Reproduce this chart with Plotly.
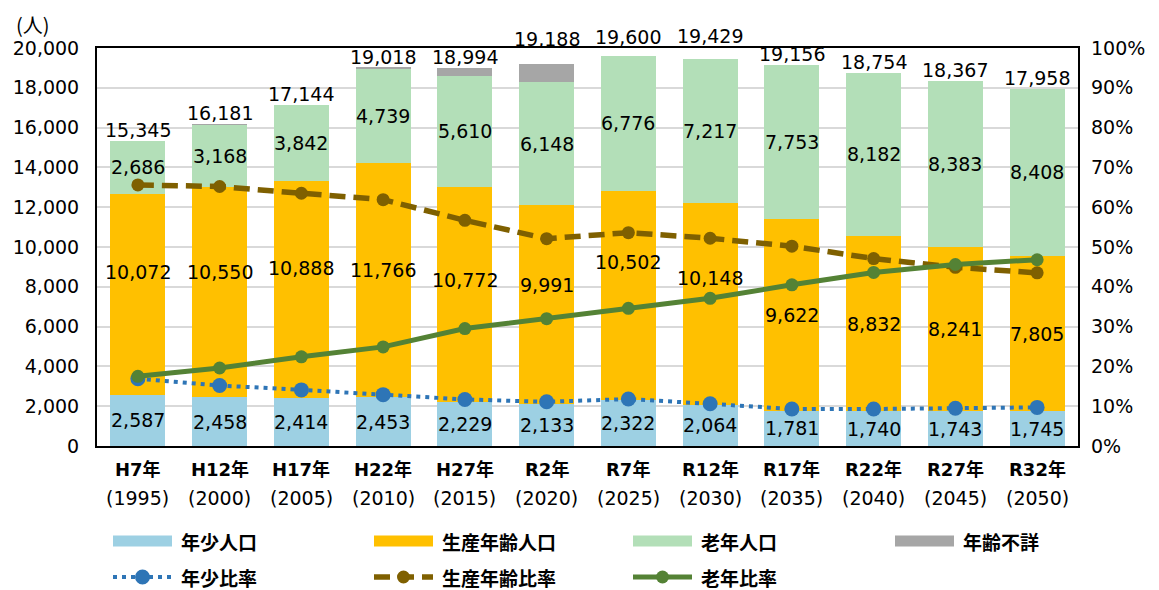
import plotly.graph_objects as go

# 年次ラベル（和暦・西暦）
era_labels = ["H7年", "H12年", "H17年", "H22年", "H27年", "R2年",
              "R7年", "R12年", "R17年", "R22年", "R27年", "R32年"]
year_labels = ["(1995)", "(2000)", "(2005)", "(2010)", "(2015)", "(2020)",
               "(2025)", "(2030)", "(2035)", "(2040)", "(2045)", "(2050)"]

# 人口（人）
young = [2587, 2458, 2414, 2453, 2229, 2133, 2322, 2064, 1781, 1740, 1743, 1745]
working = [10072, 10550, 10888, 11766, 10772, 9991, 10502, 10148, 9622, 8832, 8241, 7805]
elderly = [2686, 3168, 3842, 4739, 5610, 6148, 6776, 7217, 7753, 8182, 8383, 8408]
unknown = [0, 5, 0, 60, 383, 916, 0, 0, 0, 0, 0, 0]
total = [15345, 16181, 17144, 19018, 18994, 19188, 19600, 19429, 19156, 18754, 18367, 17958]

# 比率（%）
young_ratio = [16.9, 15.2, 14.1, 12.9, 11.7, 11.1, 11.8, 10.6, 9.3, 9.3, 9.5, 9.7]
working_ratio = [65.6, 65.2, 63.5, 61.9, 56.7, 52.1, 53.6, 52.2, 50.2, 47.1, 44.9, 43.5]
elderly_ratio = [17.5, 19.6, 22.4, 24.9, 29.5, 32.0, 34.6, 37.1, 40.5, 43.6, 45.6, 46.8]

FONT = "DejaVu Sans, Noto Sans CJK JP"
JP_FONT = "Noto Sans CJK JP"

W, H = 1159, 590
ML, MR, MT, MB = 97, 81, 48, 144
PW, PH = W - ML - MR, H - MT - MB


def px_x(px):
    # pixel -> paper x
    return (px - ML) / PW


def px_y(py):
    # pixel -> paper y
    return (H - MB - py) / PH


# label nudges (px) where the original labels were moved off-center
working_shift = [22, 20, 22, 10, 14, 19, 33, 26, 0, 0, 0, 0]
total_shift = [0, 0, 0, 0, 0, 14, 8, 12, 0, 0, 0, 0]

fig = go.Figure()

bar_specs = [
    ("年少人口", young, "#9DD0E3"),
    ("生産年齢人口", working, "#FFC000"),
    ("老年人口", elderly, "#B3DFB8"),
    ("年齢不詳", unknown, "#A6A6A6"),
]
for name, vals, color in bar_specs:
    fig.add_trace(go.Bar(x=era_labels, y=vals, name=name, marker_color=color,
                         marker_line_width=0, hoverinfo="y+name"))

line_specs = [
    ("年少比率", young_ratio, "#2E75B6", "4px,5px", 4, 15),
    ("生産年齢比率", working_ratio, "#7F6000", "16px,8px", 5.5, 13),
    ("老年比率", elderly_ratio, "#548235", "solid", 5, 13),
]
for name, vals, color, dash, width, msize in line_specs:
    fig.add_trace(go.Scatter(x=era_labels, y=vals, name=name, yaxis="y2",
                             mode="lines+markers",
                             line=dict(color=color, width=width, dash=dash),
                             marker=dict(color=color, size=msize)))

# data labels
label_font = dict(family=FONT, size=19, color="black")
for i, cat in enumerate(era_labels):
    base = 0
    segs = [(young[i], 0), (working[i], working_shift[i]), (elderly[i], 0)]
    for v, shift in segs:
        fig.add_annotation(x=cat, y=base + v / 2, text=f"{v:,}", showarrow=False,
                           yshift=shift, font=label_font)
        base += v
    fig.add_annotation(x=cat, y=total[i], text=f"{total[i]:,}", showarrow=False,
                       yanchor="bottom", yshift=total_shift[i] - 2, font=label_font)
    # category labels in two lines
    fig.add_annotation(x=cat, y=0, yref="paper", text=f"<b>{cat}</b>", showarrow=False,
                       yanchor="middle", yshift=-23,
                       font=dict(family=FONT, size=18, color="black"))
    fig.add_annotation(x=cat, y=0, yref="paper", text=year_labels[i], showarrow=False,
                       yanchor="middle", yshift=-52,
                       font=dict(family=FONT, size=19, color="black"))

fig.add_annotation(x=0, y=1, xref="paper", yref="paper", text="(人)", showarrow=False,
                   xanchor="center", yanchor="middle", xshift=-64, yshift=24,
                   font=dict(family=JP_FONT, size=20, color="black"))

# legend drawn by hand: wide swatches, two rows of four columns
legend_font = dict(family=JP_FONT, size=19, color="black", weight="bold")
col_x = [113, 374, 633, 895]
row_y = [541, 577]
sw_len = 59
for j, (name, _, color) in enumerate(bar_specs):
    x0 = col_x[j]
    fig.add_shape(type="rect", xref="paper", yref="paper", ysizemode="pixel",
                  x0=px_x(x0), x1=px_x(x0 + sw_len), yanchor=px_y(row_y[0]),
                  y0=-5.5, y1=5.5, fillcolor=color, line_width=0)
    fig.add_annotation(x=px_x(x0 + sw_len + 8), y=px_y(row_y[0]), xref="paper",
                       yref="paper", text=name, showarrow=False, xanchor="left",
                       yanchor="middle", borderpad=0, font=legend_font)
for j, (name, _, color, dash, width, msize) in enumerate(line_specs):
    x0 = col_x[j]
    fig.add_shape(type="line", xref="paper", yref="paper",
                  x0=px_x(x0), x1=px_x(x0 + sw_len), y0=px_y(row_y[1]), y1=px_y(row_y[1]),
                  line=dict(color=color, width=width, dash=dash))
    r = msize / 2
    fig.add_shape(type="circle", xref="paper", yref="paper", xsizemode="pixel",
                  ysizemode="pixel", xanchor=px_x(x0 + sw_len / 2), yanchor=px_y(row_y[1]),
                  x0=-r, x1=r, y0=-r, y1=r, fillcolor=color, line_width=0)
    fig.add_annotation(x=px_x(x0 + sw_len + 8), y=px_y(row_y[1]), xref="paper",
                       yref="paper", text=name, showarrow=False, xanchor="left",
                       yanchor="middle", borderpad=0, font=legend_font)

fig.update_layout(
    width=W, height=H,
    margin=dict(l=ML, r=MR, t=MT, b=MB),
    barmode="stack", bargap=0.33,
    plot_bgcolor="white", paper_bgcolor="white",
    font=dict(family=FONT, size=19, color="black"),
    showlegend=False,
    xaxis=dict(range=[-0.5, len(era_labels) - 0.5], showticklabels=False,
               showline=True, linecolor="black", linewidth=2,
               mirror=True, ticks="", automargin=False),
    yaxis=dict(range=[0, 20000], dtick=2000, tickformat=",", showgrid=True,
               gridcolor="#D9D9D9", gridwidth=2, showline=True, linecolor="black",
               linewidth=2, mirror=True, ticks="", ticklabelstandoff=12,
               zeroline=False, automargin=False),
    yaxis2=dict(range=[0, 100], dtick=10, ticksuffix="%", overlaying="y", side="right",
                showgrid=False, ticks="", ticklabelstandoff=12, zeroline=False,
                automargin=False),
)

# drop the page's default body margin so the figure sits at the window origin
fig.write_html("out.html", config={"displayModeBar": False},
               post_script="document.body.style.margin='0';")
